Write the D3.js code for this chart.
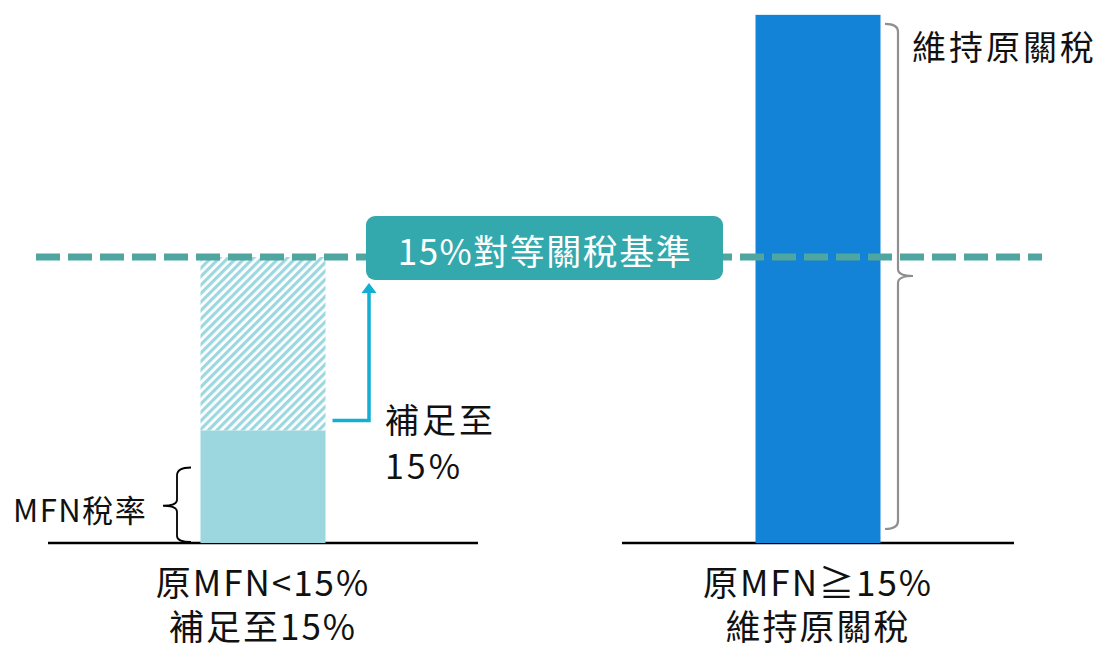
<!DOCTYPE html>
<html>
<head>
<meta charset="utf-8">
<script src="https://cdn.jsdelivr.net/npm/d3@7"></script>
<style>
  body { margin: 0; background: #fff; }
  svg { display: block; }
  text { font-family: "Noto Sans CJK TC", "Noto Sans", sans-serif; }
</style>
</head>
<body>
<svg id="chart" width="1102" height="645"></svg>
<script>
// data (percent)
const groups = ["below", "above"];
const groupLabels = [["原MFN<15%", "補足至15%"], ["原MFN≧15%", "維持原關稅"]];
const mfnRates = [5.9, 27.7];     // original MFN rate of each group
const floorRate = 15;             // 15% reciprocal tariff floor
const floorLabel = "15%對等關稅基準";

const W = 1102, H = 645;
const baseY = 543;

let svg = d3.select("#chart");

let x = d3.scalePoint()
    .domain(groups)
    .range([263, 818]);

let y = d3.scaleLinear()
    .domain([0, floorRate])
    .range([baseY, 257]);

const barW = 125;
const axisHalf = [215, 196];

// hatch pattern for the top-up part
let defs = svg.append("defs");
let pat = defs.append("pattern")
    .attr("id", "hatch")
    .attr("patternUnits", "userSpaceOnUse")
    .attr("width", 6).attr("height", 6)
    .attr("patternTransform", "rotate(45)");
pat.append("rect").attr("width", 6).attr("height", 6).attr("fill", "#fff");
pat.append("rect").attr("width", 3.2).attr("height", 6).attr("fill", "#9dd7e0");

// baselines
svg.selectAll(".base")
    .data(groups)
    .join("line")
    .attr("class", "base")
    .attr("x1", (d, i) => x(d) - axisHalf[i])
    .attr("x2", (d, i) => x(d) + axisHalf[i])
    .attr("y1", baseY).attr("y2", baseY)
    .attr("stroke", "#000").attr("stroke-width", 2.5);

// hatched top-up segment (only where mfn < floor)
svg.selectAll(".topup")
    .data(groups.filter((d, i) => mfnRates[i] < floorRate))
    .join("rect")
    .attr("class", "topup")
    .attr("x", d => x(d) - barW / 2)
    .attr("width", barW)
    .attr("y", y(floorRate))
    .attr("height", d => y(mfnRates[groups.indexOf(d)]) - y(floorRate))
    .attr("fill", "url(#hatch)");

// MFN bars
let barColor = ["#9cd7e0", "#1283d6"];
svg.selectAll(".bar")
    .data(groups)
    .join("rect")
    .attr("class", "bar")
    .attr("x", d => x(d) - barW / 2)
    .attr("width", barW)
    .attr("y", (d, i) => y(mfnRates[i]))
    .attr("height", (d, i) => baseY - y(mfnRates[i]))
    .attr("fill", (d, i) => barColor[i]);

// dashed 15% line
let fy = y(floorRate);
svg.append("line")
    .attr("x1", 36).attr("x2", 1042)
    .attr("y1", fy).attr("y2", fy)
    .attr("stroke", "#4fa6a0")
    .attr("stroke-width", 7)
    .attr("stroke-dasharray", "24 8");

// arrow: from top of MFN bar up to the floor label
let ax = x("below") + barW / 2 + 7;  // gap from bar
let ay = y(mfnRates[0]) - 10;
let arrowX = 369;
svg.append("path")
    .attr("d", `M${ax},${ay} H${arrowX} V${fy + 34}`)
    .attr("fill", "none")
    .attr("stroke", "#12aed4")
    .attr("stroke-width", 3.5);
svg.append("path")
    .attr("d", `M${arrowX},${fy + 26} L${arrowX - 7.5},${fy + 36} L${arrowX + 7.5},${fy + 36} Z`)
    .attr("fill", "#12aed4");

// floor label box
let box = svg.append("g").attr("transform", `translate(366, ${fy - 41})`);
box.append("rect")
    .attr("width", 357).attr("height", 64)
    .attr("rx", 9)
    .attr("fill", "#33a9ae");
box.append("text")
    .attr("x", 179).attr("y", 33)
    .attr("text-anchor", "middle")
    .attr("dominant-baseline", "central")
    .attr("fill", "#fff")
    .attr("font-size", 35)
    .attr("letter-spacing", 1.5)
    .text(floorLabel);

// "補足至 15%" note
let note = svg.append("text")
    .attr("x", 385).attr("font-size", 34)
    .attr("letter-spacing", 3)
    .attr("fill", "#111");
note.append("tspan").attr("x", 385).attr("y", 433).text("補足至");
note.append("tspan").attr("x", 385).attr("y", 479).text(floorRate + "%");

// curly brace for MFN rate on the left bar
let bx = 177, bTop = y(mfnRates[0]) + 37, bBot = baseY - 1, bMid = (bTop + bBot) / 2 + 1;
svg.append("path")
    .attr("d", `M191,${bTop} Q${bx},${bTop} ${bx},${bTop + 8} L${bx},${bMid - 6} Q${bx},${bMid} ${bx - 14},${bMid}
                Q${bx},${bMid} ${bx},${bMid + 6} L${bx},${bBot - 6} Q${bx},${bBot} 191,${bBot}`)
    .attr("fill", "none")
    .attr("stroke", "#000")
    .attr("stroke-width", 1.8);
svg.append("text")
    .attr("x", 13).attr("y", 508)
    .attr("dominant-baseline", "central")
    .attr("font-size", 31)
    .attr("letter-spacing", 1.5)
    .attr("fill", "#111")
    .text("MFN稅率");

// bracket for the right bar
let rx = 898, rTop = y(mfnRates[1]) + 9, rBot = baseY - 14, rMid = fy + 19;
svg.append("path")
    .attr("d", `M885,${rTop} Q${rx},${rTop} ${rx},${rTop + 8} L${rx},${rMid - 7} Q${rx},${rMid} ${rx + 15},${rMid}
                M${rx + 15},${rMid} Q${rx},${rMid} ${rx},${rMid + 7} L${rx},${rBot - 8} Q${rx},${rBot} 885,${rBot}`)
    .attr("fill", "none")
    .attr("stroke", "#8f8f8f")
    .attr("stroke-width", 2.2);
svg.append("text")
    .attr("x", 912).attr("y", 45)
    .attr("dominant-baseline", "central")
    .attr("font-size", 34)
    .attr("letter-spacing", 3)
    .attr("fill", "#111")
    .text("維持原關稅");

// category labels under the baselines
svg.selectAll(".cat")
    .data(groups)
    .join("text")
    .attr("class", "cat")
    .attr("text-anchor", "middle")
    .attr("font-size", 35)
    .attr("letter-spacing", 2)
    .attr("fill", "#111")
    .each(function (d, i) {
        let t = d3.select(this);
        groupLabels[i].forEach((s, j) => {
            t.append("tspan")
                .attr("x", x(d))
                .attr("y", 596 + j * 44)
                .text(s);
        });
    });
</script>
</body>
</html>
